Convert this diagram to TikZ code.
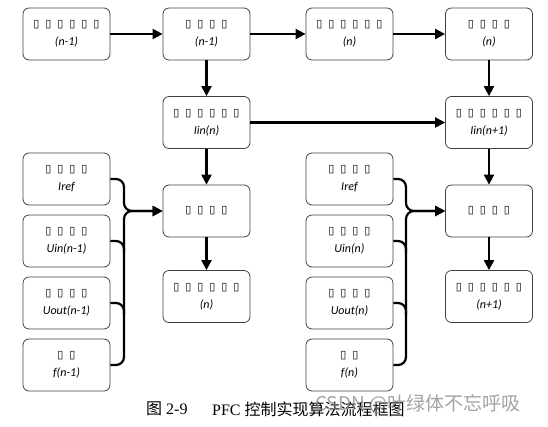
\documentclass[tikz,border=0pt]{standalone}
\usepackage{fontspec}
\setmainfont{Liberation Serif}
\newfontfamily\cjk{Noto Sans CJK SC}
\newfontfamily\dejavu{DejaVu Sans}
\newfontfamily\lblfont{Carlito}
\usetikzlibrary{arrows.meta}
\newcommand\tfo{\makebox[12pt]{\dejavu\fontsize{11}{11}\selectfont ▯}}
\newcommand\tfiv{\tfo\tfo\tfo\tfo}
\newcommand\tfvi{\tfo\tfo\tfo\tfo\tfo\tfo}
\newcommand\tfii{\tfo\tfo}
\tikzset{
  box/.style={draw=black!75, line width=0.8pt, rounded corners=6pt,
    minimum width=87pt, minimum height=52pt, align=center, inner sep=0pt,
    font=\lblfont\itshape\fontsize{12}{18}\selectfont},
  arr/.style={-{Triangle[length=10pt,width=10pt]}, line width=2.2pt},
  merge/.style={line width=2.2pt, rounded corners=8pt},
}
\begin{document}
\begin{tikzpicture}[x=1pt,y=-1pt]
\useasboundingbox (0,0) rectangle (548,426);
% row 1
\node[box] (a1) at (66.5,34) {\tfvi\\(n-1)};
\node[box] (a2) at (206.5,34) {\tfiv\\(n-1)};
\node[box] (a3) at (349.5,34) {\tfvi\\(n)};
\node[box] (a4) at (489,34) {\tfiv\\(n)};
% row 2
\node[box] (b1) at (206.5,122.5) {\tfvi\\Iin(n)};
\node[box] (b2) at (489,122.5) {\tfvi\\Iin(n+1)};
% centre
\node[box] (c1) at (206.5,211) {\tfiv};
\node[box] (c2) at (489,211) {\tfiv};
\node[box] (d1) at (206.5,296.5) {\tfvi\\(n)};
\node[box] (d2) at (489,296.5) {\tfvi\\(n+1)};
% inputs left
\node[box] (l1) at (66.5,179) {\tfiv\\Iref};
\node[box] (l2) at (66.5,241) {\tfiv\\Uin(n-1)};
\node[box] (l3) at (66.5,303) {\tfiv\\Uout(n-1)};
\node[box] (l4) at (66.5,365) {\tfii\\f(n-1)};
% inputs right
\node[box] (r1) at (349.5,179) {\tfiv\\Iref};
\node[box] (r2) at (349.5,241) {\tfiv\\Uin(n)};
\node[box] (r3) at (349.5,303) {\tfiv\\Uout(n)};
\node[box] (r4) at (349.5,365) {\tfii\\f(n)};
% connectors
\draw[arr] (a1) -- (a2);
\draw[arr] (a2) -- (a3);
\draw[arr] (a3) -- (a4);
\draw[arr] (a2) -- (b1);
\draw[arr] (a4) -- (b2);
\draw[arr] (b1) -- (b2);
\draw[arr] (b1) -- (c1);
\draw[arr] (b2) -- (c2);
\draw[arr] (c1) -- (d1);
\draw[arr] (c2) -- (d2);
% merges
\coordinate (jL) at (124,211);
\coordinate (jR) at (406,211);
\draw[merge,arr] (l1.east) -- (jL |- l1.east) -- (jL) -- (c1.west);
\draw[merge,arr] (l4.east) -- (jL |- l4.east) -- (jL) -- (c1.west);
\draw[merge] (l2.east) -- (jL |- l2.east) -- ([yshift=-12pt]jL |- l2.east);
\draw[merge] (l3.east) -- (jL |- l3.east) -- ([yshift=-12pt]jL |- l3.east);
\draw[merge,arr] (r1.east) -- (jR |- r1.east) -- (jR) -- (c2.west);
\draw[merge,arr] (r4.east) -- (jR |- r4.east) -- (jR) -- (c2.west);
\draw[merge] (r2.east) -- (jR |- r2.east) -- ([yshift=-12pt]jR |- r2.east);
\draw[merge] (r3.east) -- (jR |- r3.east) -- ([yshift=-12pt]jR |- r3.east);
% caption
\node[anchor=west, inner sep=0pt, font=\fontsize{16}{16}\selectfont] (cap1) at (146,409) {{\cjk 图} 2-9};
\node[anchor=west, inner sep=0pt, font=\fontsize{16}{16}\selectfont] (cap2) at (212,409) {PFC {\cjk 控制实现算法流程框图}};
\node[anchor=west, inner sep=0pt, text=black!45, opacity=0.8, font=\cjk\fontsize{19}{19}\selectfont] (wm) at (315,404) {CSDN @叶绿体不忘呼吸};
\end{tikzpicture}
\end{document}
